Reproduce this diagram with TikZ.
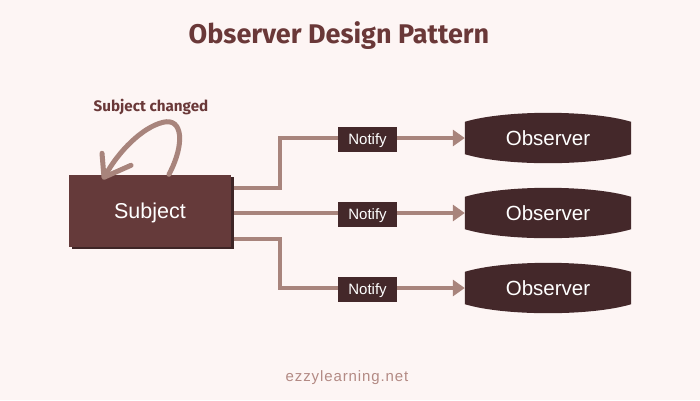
\documentclass[tikz,border=0pt]{standalone}
\usepackage{fontspec}
\setmainfont{Liberation Sans}
\newfontfamily\titlefont{Fira Sans}
\newfontfamily\footfont[LetterSpace=6]{Liberation Sans}
\usetikzlibrary{arrows.meta,shadows,backgrounds,calc}
\definecolor{bgc}{HTML}{FDF5F4}
\definecolor{titlec}{HTML}{6A3838}
\definecolor{subjc}{HTML}{653A3A}
\definecolor{shadc}{HTML}{3E2526}
\definecolor{darkc}{HTML}{44282A}
\definecolor{connc}{HTML}{A8847C}
\definecolor{footc}{HTML}{B38A84}
\tikzset{
  subjbox/.style={fill=subjc, text=white, minimum width=162pt, minimum height=72pt, inner sep=0pt,
    text depth=0pt, font=\fontsize{21.5}{24}\selectfont,
    drop shadow={shadow xshift=2.5pt, shadow yshift=-2.5pt, fill=shadc, opacity=1}},
  obsnode/.style={text=white, minimum width=166pt, minimum height=32pt, inner sep=0pt,
    font=\fontsize{20.5}{22}\selectfont},
  notebox/.style={fill=darkc, text=white, minimum width=59pt, minimum height=25pt, inner sep=0pt,
    text depth=0pt, font=\fontsize{15}{17}\selectfont},
  conn/.style={draw=connc, line width=3.5pt, line join=miter,
    -{Triangle[length=12pt,width=16pt]}},
  curl/.style={draw=connc, line width=5pt, line cap=round, line join=round},
}
\newcommand{\obsshape}[1]{%
  \fill[darkc] (#1.north west) .. controls ($(#1.north west)+(40,-12)$) and ($(#1.north east)+(-40,-12)$) .. (#1.north east)
    -- (#1.south east) .. controls ($(#1.south east)+(-40,12)$) and ($(#1.south west)+(40,12)$) .. (#1.south west) -- cycle;}
\begin{document}
\begin{tikzpicture}[x=1pt,y=-1pt]
\useasboundingbox (0,0) rectangle (700,400);
\begin{scope}[on background layer]
\fill[bgc] (0,0) rectangle (700,400);
\end{scope}
\node[font=\titlefont\bfseries\fontsize{27}{30}\selectfont, text=titlec] (title) at (339,36) {Observer Design Pattern};
\node[font=\titlefont\bfseries\fontsize{15.2}{17}\selectfont, text=titlec] (chg) at (151,107) {Subject changed};
\node[subjbox] (s) at (150,210.5) {Subject};

\node[obsnode] (o1) at (548,138) {Observer};
\node[obsnode] (o2) at (548,213) {Observer};
\node[obsnode] (o3) at (548,288) {Observer};
\begin{scope}[on background layer]
\obsshape{o1}
\obsshape{o2}
\obsshape{o3}
\end{scope}

\coordinate (k1) at (280,138);
\coordinate (k3) at (280,288);
\draw[conn] ($(s.east)+(3,-22.5)$) -| (k1) -- (o1.west);
\draw[conn] ($(s.east)+(3,2.5)$) -- (o2.west);
\draw[conn] ($(s.east)+(3,28.5)$) -| (k3) -- (o3.west);

\node[notebox] (n1) at (367.5,139) {Notify};
\node[notebox] (n2) at (367.5,214) {Notify};
\node[notebox] (n3) at (367.5,289) {Notify};

\draw[curl] ($(s.north)+(19,0)$) .. controls ($(s.north)+(35,-30)$) and ($(s.north)+(33,-57)$) .. ($(s.north)+(13,-52)$)
  .. controls ($(s.north)+(-8,-47)$) and ($(s.north)+(-32,-22)$) .. ($(s.north)+(-44,0)$);
\draw[curl] ($(s.north)+(-48,-21)$) -- ($(s.north)+(-46,3)$) -- ($(s.north)+(-19,-9)$);

\node[font=\footfont\fontsize{15}{18}\selectfont, text=footc] (foot) at (347,378) {ezzylearning.net};
\end{tikzpicture}
\end{document}
